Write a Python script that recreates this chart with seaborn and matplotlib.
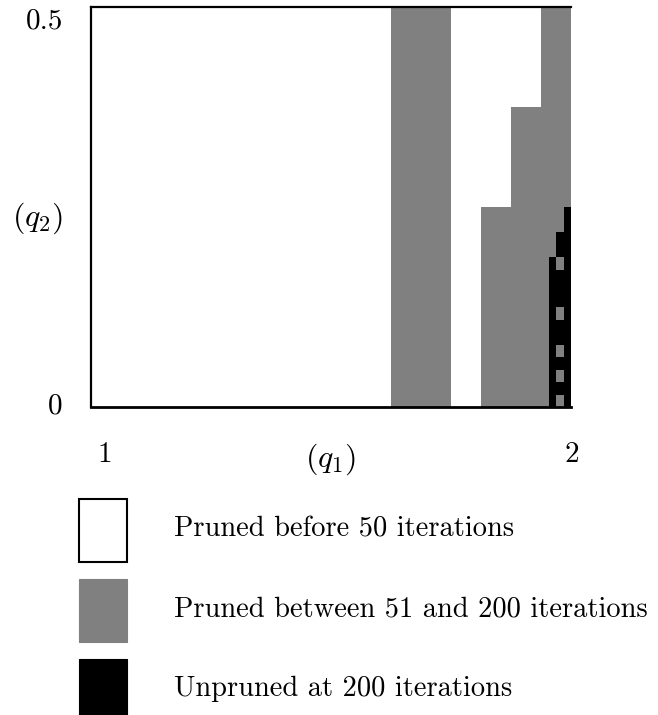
import numpy as np
import matplotlib
matplotlib.use('Agg')
import matplotlib.pyplot as plt
import seaborn as sns
from matplotlib.colors import ListedColormap
from matplotlib.patches import Rectangle

# grid of the (q1, q2) region: q1 in [1, 2], q2 in [0, 0.5], cells of 1/64
n_q1 = 64
n_q2 = 32

# columns pruned between 51 and 200 iterations over full height
slow_band_cols = list(range(40, 48))
# staircase near q1 = 2: first column of each step and its height (rows)
step_cols = [52, 56, 60]
step_rows = [16, 24, 32]
# unpruned columns and their heights (rows)
black_cols = [61, 62, 63]
black_rows = [12, 14, 16]
# gray cells inside the unpruned column 62
hole_col = 62
hole_rows = [0, 2, 4, 7, 11]

legend_labels = ['Pruned before 50 iterations',
                 'Pruned between 51 and 200 iterations',
                 'Unpruned at 200 iterations']
legend_colors = ['white', '#808080', 'black']

status = np.zeros((n_q2, n_q1), dtype=int)
status[:, slow_band_cols] = 1
for c0, h in zip(step_cols, step_rows):
    status[:h, c0:c0 + 4] = 1
for c, h in zip(black_cols, black_rows):
    status[:h, c] = 2
for r in hole_rows:
    status[r, hole_col] = 1

W, H = 658, 715
fig = plt.figure(figsize=(W / 100, H / 100), dpi=100)
plt.rcParams['mathtext.fontset'] = 'cm'

ax = fig.add_axes([91 / W, 1 - 407 / H, 480 / W, 400 / H])
sns.heatmap(status, cmap=ListedColormap(legend_colors), vmin=-0.5, vmax=2.5,
            cbar=False, ax=ax, xticklabels=False, yticklabels=False,
            linewidths=0)
ax.set_ylim(0, n_q2)
ax.set_xlim(0, n_q1)
ax.set_xticks([])
ax.set_yticks([])
for side in ['left', 'top', 'bottom']:
    ax.spines[side].set_visible(True)
    ax.spines[side].set_color('black')
    ax.spines[side].set_linewidth(1.6)
ax.spines['bottom'].set_linewidth(2.0)
ax.spines['right'].set_visible(False)


def px_text(x, y, s, size=21, ha='center'):
    fig.text(x / W, 1 - y / H, s, ha=ha, va='center', fontsize=size,
             fontfamily='cmr10')


# axis labels placed like the original
px_text(45, 21, '0.5', size=21)
px_text(55, 406, '0', size=21)
px_text(38, 218, r'$(q_2)$', size=23)
px_text(105, 455, '1', size=21)
px_text(331, 459, r'$(q_1)$', size=23)
px_text(572, 455, '2', size=21)

# legend
box_tops = [499, 579, 659]
for top, lab, col in zip(box_tops, legend_labels, legend_colors):
    ec = '#808080' if col == '#808080' else 'black'
    lw = 1.5 if col == 'white' else 0.8
    fig.add_artist(Rectangle((79 / W, 1 - (top + 63) / H), 48 / W, 63 / H,
                             transform=fig.transFigure, facecolor=col,
                             edgecolor=ec, linewidth=lw))
    px_text(174, top + 30, lab, size=20.5, ha='left')

fig.savefig('out.png', dpi=100)
